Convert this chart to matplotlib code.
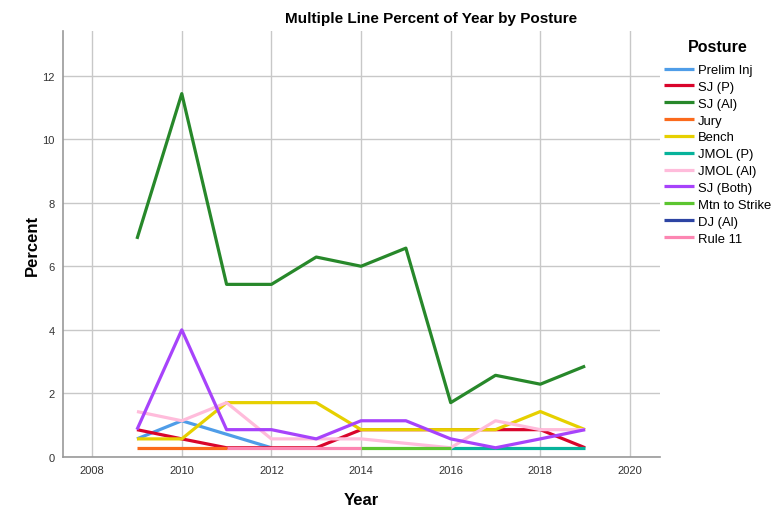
import numpy as np
import matplotlib
matplotlib.use("Agg")
import matplotlib.pyplot as plt

plt.rcParams['font.family'] = ['Liberation Sans', 'DejaVu Sans']

years = list(range(2009, 2020))

# percent per year for each posture; None = no cases that year
postures = ["Prelim Inj", "SJ (P)", "SJ (Al)", "Jury", "Bench", "JMOL (P)",
            "JMOL (Al)", "SJ (Both)", "Mtn to Strike", "DJ (Al)", "Rule 11"]

prelim_inj = [0.57, 1.14, None, 0.29, None, None, None, None, None, None, None]
sj_p = [0.86, 0.57, 0.29, 0.29, 0.29, 0.86, 0.86, 0.86, 0.86, 0.86, 0.29]
sj_al = [6.86, 11.43, 5.43, 5.43, 6.29, 6.00, 6.57, 1.71, 2.57, 2.29, 2.86]
jury = [0.29, 0.29, 0.29, None, None, None, None, None, None, None, None]
bench = [0.57, 0.57, 1.71, 1.71, 1.71, 0.86, 0.86, 0.86, 0.86, 1.43, 0.86]
jmol_p = [None, None, None, None, None, None, None, 0.29, 0.29, 0.29, 0.29]
jmol_al = [1.43, 1.14, 1.71, 0.57, 0.57, 0.57, None, 0.29, 1.14, 0.86, 0.86]
sj_both = [0.86, 4.00, 0.86, 0.86, 0.57, 1.14, 1.14, 0.57, 0.29, 0.57, 0.86]
mtn_strike = [None, None, None, None, None, 0.29, 0.29, 0.29, None, None, None]
dj_al = [None, None, None, None, 0.29, None, None, None, None, None, None]
rule_11 = [None, None, 0.29, 0.29, 0.29, 0.29, None, None, None, None, None]

series = [prelim_inj, sj_p, sj_al, jury, bench, jmol_p,
          jmol_al, sj_both, mtn_strike, dj_al, rule_11]
colors = ["#4f9de8", "#d9042b", "#27882a", "#fb6a1c", "#e6d000", "#07b39b",
          "#ffbcdb", "#a743fb", "#5cc530", "#2d44a3", "#fc86b2"]

fig = plt.figure(figsize=(7.72, 5.10), dpi=100)
ax = fig.add_axes([63 / 772, 1 - 458 / 510, 597 / 772, 426 / 510])

for name, vals, c in zip(postures, series, colors):
    xs = [y for y, v in zip(years, vals) if v is not None]
    ys = [v for v in vals if v is not None]
    ax.plot(xs, ys, color=c, lw=2.3, label=name, solid_capstyle='butt')

ax.set_xlim(2007.35, 2020.67)
ax.set_ylim(0, 13.4)
ax.set_xticks(range(2008, 2021, 2))
ax.set_yticks(range(0, 13, 2))
ax.grid(True, color="#c8c8c8", lw=1)
ax.set_axisbelow(True)
ax.tick_params(labelsize=8, colors="#333333", length=0, pad=6)
for s in ["top", "right"]:
    ax.spines[s].set_visible(False)
for s in ["left", "bottom"]:
    ax.spines[s].set_color("#999999")
    ax.spines[s].set_linewidth(1.2)

ax.set_xlabel("Year", fontsize=12, fontweight="bold", labelpad=12)
ax.set_ylabel("Percent", fontsize=12, fontweight="bold", labelpad=2)
fig.text(431 / 772, 1 - 19 / 510, "Multiple Line Percent of Year by Posture",
         ha="center", va="center", fontsize=11, fontweight="bold")

fig.text(718 / 772, 1 - 48 / 510, "Posture", ha="center", va="center",
         fontsize=11.5, fontweight="bold")
leg = fig.legend(loc="upper left", bbox_to_anchor=(664 / 772, 1 - 65 / 510),
                 frameon=False, fontsize=9.4,
                 handlelength=2.3, handletextpad=0.3, labelspacing=0.36,
                 borderaxespad=0, borderpad=0)

fig.savefig("out.png", dpi=100)
